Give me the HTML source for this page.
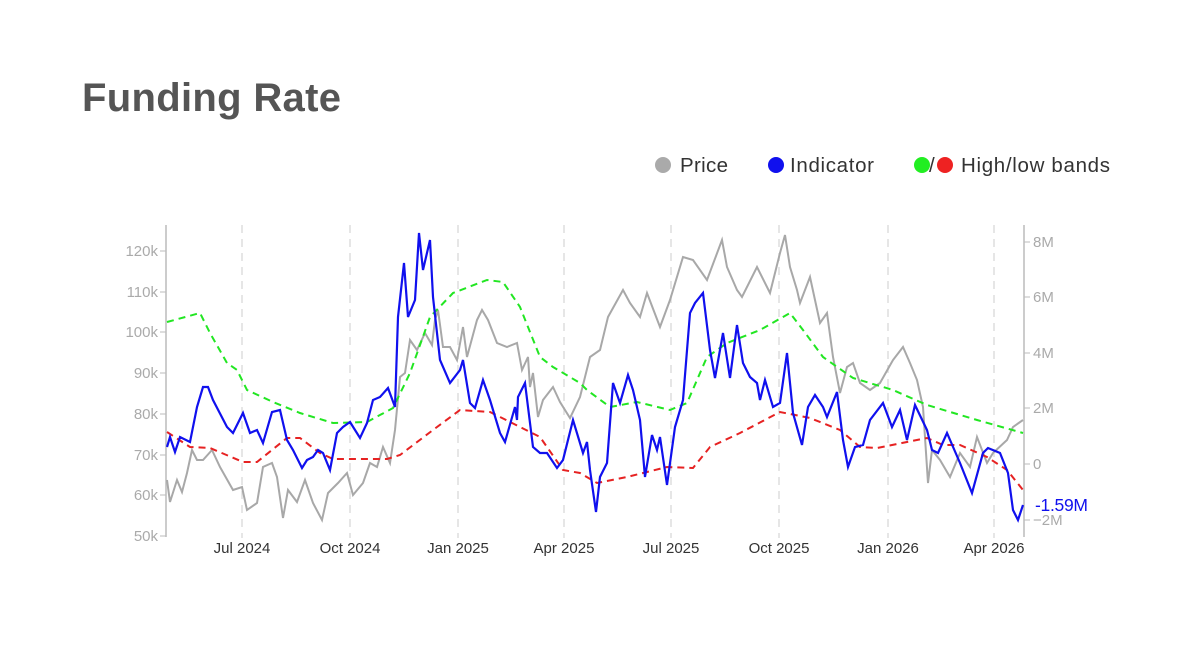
<!DOCTYPE html>
<html><head><meta charset="utf-8"><style>
body{margin:0;background:#fff;width:1200px;height:650px;overflow:hidden;font-family:"Liberation Sans",sans-serif}
</style></head><body>
<svg width="1200" height="650" xmlns="http://www.w3.org/2000/svg" style="position:absolute;left:0;top:0">
<text x="82" y="111" font-family="Liberation Sans" font-weight="bold" font-size="40" fill="#555" textLength="259">Funding Rate</text>
<g font-size="20.5" fill="#333" font-family="Liberation Sans">
<circle cx="663" cy="165" r="8" fill="#aaa"/><text x="680" y="172" textLength="48">Price</text>
<circle cx="776" cy="165" r="8" fill="#1010ee"/><text x="790" y="172" textLength="84">Indicator</text>
<circle cx="922" cy="165" r="8" fill="#22ee22"/><text x="929" y="172">/</text><circle cx="945" cy="165" r="8" fill="#ee2222"/><text x="961" y="172" textLength="149">High/low bands</text>
</g>
<g stroke="#ddd" stroke-width="1.5" stroke-dasharray="8,6">
<line x1="242" y1="225" x2="242" y2="538"/><line x1="350" y1="225" x2="350" y2="538"/><line x1="458" y1="225" x2="458" y2="538"/><line x1="564" y1="225" x2="564" y2="538"/><line x1="671" y1="225" x2="671" y2="538"/><line x1="779" y1="225" x2="779" y2="538"/><line x1="888" y1="225" x2="888" y2="538"/><line x1="994" y1="225" x2="994" y2="538"/>
</g>
<g stroke="#bbb" stroke-width="1.5">
<line x1="166" y1="225" x2="166" y2="537"/><line x1="1024" y1="225" x2="1024" y2="537"/>
</g>
<g font-size="15" fill="#aaa" text-anchor="end">
<text x="158" y="256">120k</text><text x="158" y="297">110k</text><text x="158" y="337">100k</text><text x="158" y="378">90k</text><text x="158" y="419">80k</text><text x="158" y="460">70k</text><text x="158" y="500">60k</text><text x="158" y="541">50k</text>
</g>
<g stroke="#bbb"><line x1="160" y1="251" x2="166" y2="251"/><line x1="160" y1="292" x2="166" y2="292"/><line x1="160" y1="332" x2="166" y2="332"/><line x1="160" y1="373" x2="166" y2="373"/><line x1="160" y1="414" x2="166" y2="414"/><line x1="160" y1="455" x2="166" y2="455"/><line x1="160" y1="495" x2="166" y2="495"/><line x1="160" y1="536" x2="166" y2="536"/>
<line x1="1024" y1="242" x2="1030" y2="242"/><line x1="1024" y1="297" x2="1030" y2="297"/><line x1="1024" y1="353" x2="1030" y2="353"/><line x1="1024" y1="408" x2="1030" y2="408"/><line x1="1024" y1="464" x2="1030" y2="464"/><line x1="1024" y1="520" x2="1030" y2="520"/></g>
<g font-size="15" fill="#aaa">
<text x="1033" y="247">8M</text><text x="1033" y="302">6M</text><text x="1033" y="358">4M</text><text x="1033" y="413">2M</text><text x="1033" y="469">0</text><text x="1033" y="525">−2M</text>
</g>
<g font-size="15" fill="#333" text-anchor="middle">
<text x="242" y="553">Jul 2024</text><text x="350" y="553">Oct 2024</text><text x="458" y="553">Jan 2025</text><text x="564" y="553">Apr 2025</text><text x="671" y="553">Jul 2025</text><text x="779" y="553">Oct 2025</text><text x="888" y="553">Jan 2026</text><text x="994" y="553">Apr 2026</text>
</g>
<polyline fill="none" stroke="#a8a8a8" stroke-width="2" points="167,480 170,502 177,480 182,492 187,473 192,450 197,460 203,460 212,450 220,467 233,490 242,487 247,510 257,503 263,467 272,463 277,477 283,518 288,490 297,502 305,480 313,503 322,520 328,493 338,483 347,473 353,495 363,483 370,463 377,467 383,447 390,463 395,430 400,377 405,373 410,340 417,350 425,333 432,345 435,320 438,310 443,347 450,347 457,360 463,327 467,357 477,320 482,310 488,320 497,343 507,347 517,343 522,370 528,357 530,387 533,373 538,417 543,400 553,387 560,402 570,418 580,397 590,357 600,350 608,317 623,290 630,303 640,317 647,293 660,327 670,300 683,257 693,260 707,280 722,240 727,267 737,290 742,297 757,267 770,293 780,253 785,235 790,267 797,290 800,303 810,277 820,323 827,313 833,357 840,393 847,367 853,363 860,383 870,390 880,383 893,360 903,347 910,363 917,380 923,407 928,483 932,450 940,460 950,477 960,453 970,467 977,437 987,463 993,453 1007,440 1013,427 1023,420"/>
<polyline fill="none" stroke="#22e622" stroke-width="2" stroke-dasharray="7,5" points="167,322 200,313 210,333 227,363 237,370 247,390 273,402 300,413 333,423 367,422 393,408 410,373 430,317 453,293 487,280 503,282 520,307 540,357 553,367 580,383 587,390 610,407 637,402 670,410 687,403 707,357 727,343 760,330 790,313 803,330 823,357 853,378 893,390 927,405 977,420 1023,433"/>
<polyline fill="none" stroke="#e62222" stroke-width="2" stroke-dasharray="7,5" points="167,432 190,447 210,448 243,462 257,462 287,438 300,438 320,453 333,459 387,459 400,455 433,430 460,410 490,412 520,427 540,437 563,470 580,473 597,483 627,477 667,467 693,468 710,447 740,433 780,412 810,418 840,430 860,447 877,448 907,442 927,438 943,445 960,445 987,457 1007,470 1023,490"/>
<polyline fill="none" stroke="#1010ee" stroke-width="2.2" points="167,447 170,437 175,452 180,437 190,442 197,407 203,387 208,387 213,400 227,427 233,433 243,413 250,433 257,430 263,443 272,412 280,410 287,440 293,450 302,468 307,460 313,457 318,450 323,453 330,470 337,433 343,427 350,422 360,438 367,423 373,400 380,397 388,388 395,407 398,317 404,263 408,317 415,300 419,233 423,270 430,240 433,297 440,360 450,383 460,370 463,360 470,403 475,408 483,380 490,400 500,433 505,442 515,407 517,420 518,397 525,383 533,447 540,453 547,453 557,468 563,460 573,420 583,453 587,442 590,470 596,512 600,477 607,463 613,383 620,403 628,375 633,390 640,420 645,477 652,435 657,450 660,437 667,485 675,427 683,400 690,313 695,303 703,293 710,350 715,378 723,333 730,378 737,325 743,363 750,377 757,383 760,400 765,380 773,407 780,403 787,353 793,413 802,445 808,407 815,395 823,407 827,417 837,392 843,440 848,467 855,447 863,445 870,420 883,403 892,427 900,410 907,440 915,405 927,430 932,450 938,453 947,433 960,463 972,493 983,453 988,448 1000,453 1008,473 1013,510 1018,520 1023,505"/>
<text x="1035" y="511" font-size="17.5" fill="#1010ee" textLength="53">-1.59M</text>
</svg>
</body></html>
